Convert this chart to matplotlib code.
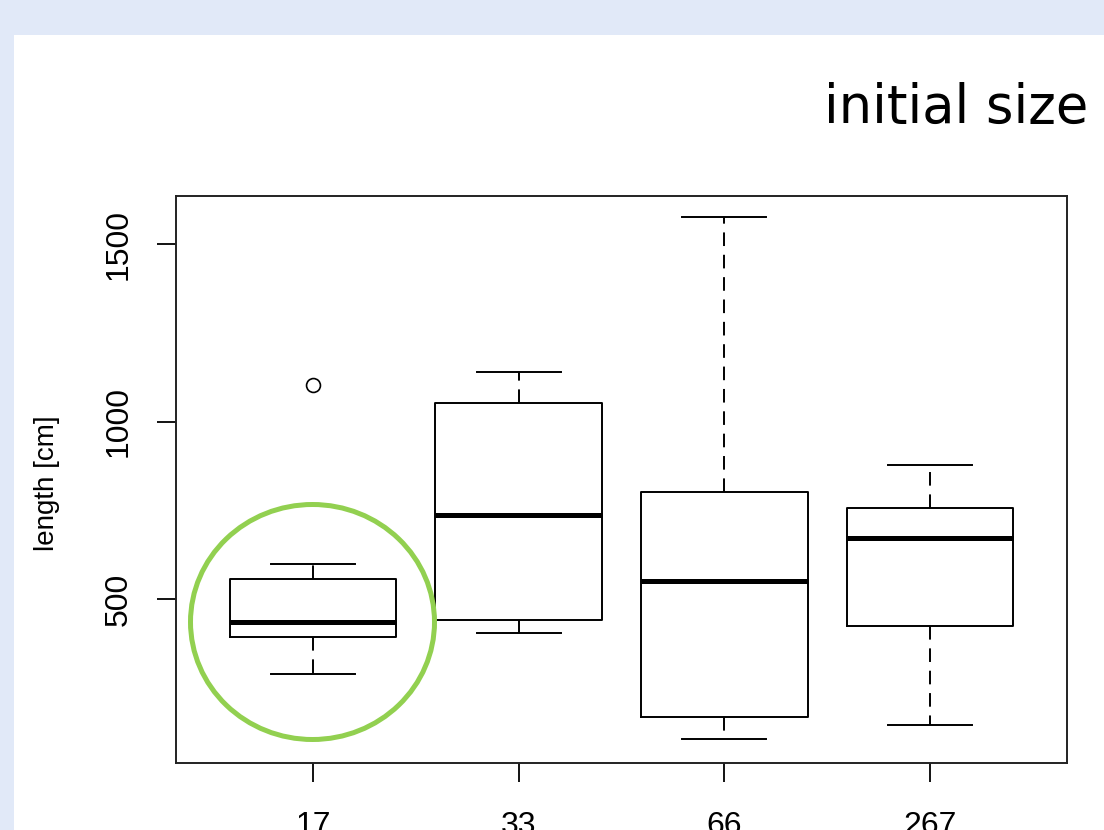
import matplotlib
matplotlib.use("Agg")
import matplotlib.pyplot as plt
from matplotlib.patches import Rectangle, Ellipse
from matplotlib import font_manager

# ---- data ----
groups = ["17", "33", "66", "267"]
whisker_low = [290, 406, 107, 146]
q1 = [394, 442, 169, 425]
median = [437, 738, 552, 673]
q3 = [558, 1054, 803, 758]
whisker_high = [600, 1141, 1577, 879]
outliers = [[1104], [], [], []]
y_ticks = [500, 1000, 1500]

W, H = 1104, 830
fig = plt.figure(figsize=(W / 100, H / 100), dpi=100)
fig.patch.set_facecolor("#e1e9f8")

# white slide panel
fig.patches.append(Rectangle((14 / W, 0), 1 - 14 / W, 1 - 35 / H,
                             transform=fig.transFigure, facecolor="white",
                             edgecolor="none", zorder=-10))

avail = {f.name for f in font_manager.fontManager.ttflist}
tick_family = ["Liberation Sans Narrow", "Liberation Sans"] if "Liberation Sans Narrow" in avail else ["Liberation Sans"]

ax = fig.add_axes([176 / W, 1 - 763 / H, (1067 - 176) / W, (763 - 196) / H])
ax.set_zorder(1)
ax.set_facecolor("white")

stats = []
for i, g in enumerate(groups):
    stats.append(dict(label=g, whislo=whisker_low[i], q1=q1[i], med=median[i],
                      q3=q3[i], whishi=whisker_high[i], fliers=outliers[i]))

positions = list(range(1, len(groups) + 1))
ax.bxp(stats, positions=positions, widths=0.81, capwidths=0.41,
       boxprops=dict(color="black", linewidth=1.4),
       medianprops=dict(color="black", linewidth=3.6, solid_capstyle="butt"),
       whiskerprops=dict(color="black", linewidth=1.4, linestyle=(0, (7, 4.5))),
       capprops=dict(color="black", linewidth=1.4),
       flierprops=dict(marker="o", markerfacecolor="none", markeredgecolor="black",
                       markersize=10, markeredgewidth=1.2, linestyle="none"))

ax.set_xlim(1 / 3, len(groups) + 2 / 3)
ax.set_ylim(39.4, 1636.6)
ax.set_yticks(y_ticks)
ax.set_yticklabels([str(v) for v in y_ticks], rotation=90, va="center",
                   family=tick_family, fontsize=23)
ax.set_xticks(positions)
ax.set_xticklabels(groups, family=tick_family, fontsize=23)
ax.tick_params(axis="both", direction="out", length=13.7, width=1.3, colors="black")
ax.tick_params(axis="y", pad=17)
ax.tick_params(axis="x", pad=21)
for s in ax.spines.values():
    s.set_linewidth(1.4)
    s.set_color("#222222")

# y label
fig.text(47 / W, 1 - 483 / H, "length [cm]", rotation=90, ha="center", va="center",
         family=["Liberation Sans"], fontsize=20, color="black")

# slide title
fig.text(1088 / W, 1 - 123 / H, "initial size", ha="right", va="baseline",
         family=["DejaVu Sans"], fontsize=38, color="black")

# green highlight circle
fig.patches.append(Ellipse((312.5 / W, 1 - 622 / H), 244 / W, 235 / H,
                           transform=fig.transFigure, facecolor="none",
                           edgecolor="#92d050", linewidth=3.6, zorder=10))

fig.savefig("out.png", dpi=100, facecolor=fig.get_facecolor())
